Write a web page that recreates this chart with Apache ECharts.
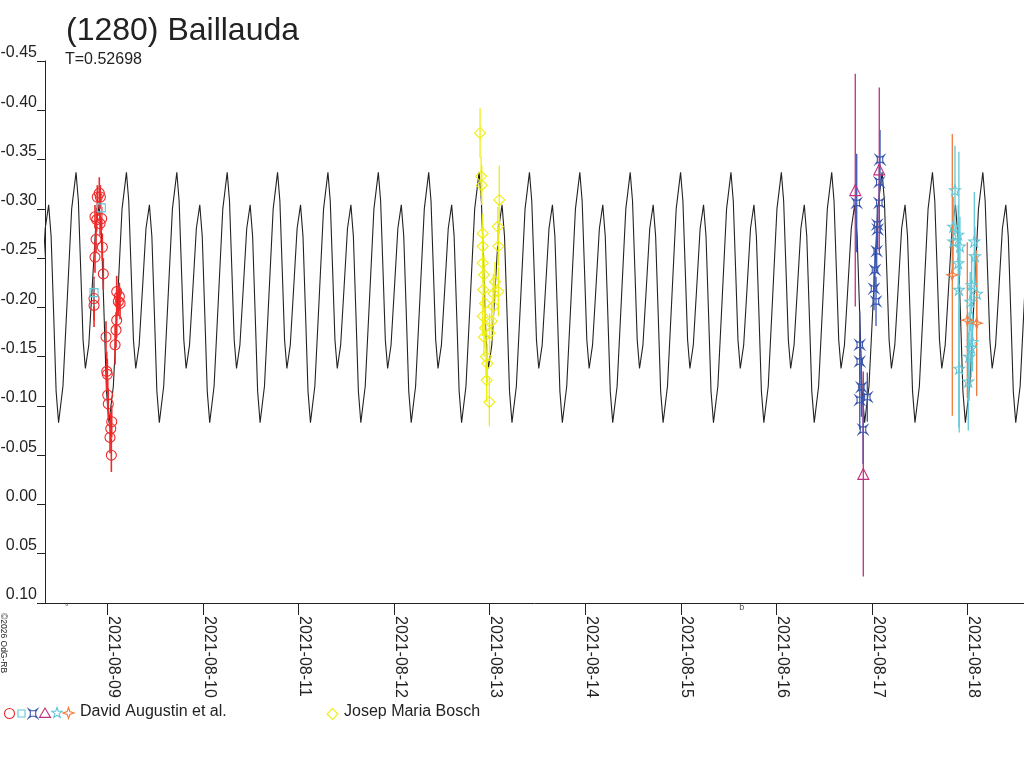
<!DOCTYPE html>
<html>
<head>
<meta charset="utf-8">
<script src="https://cdn.jsdelivr.net/npm/echarts@6/dist/echarts.min.js"></script>
<style>
  html, body { margin: 0; padding: 0; background: #fff; }
  #main { width: 1024px; height: 768px; }
</style>
</head>
<body>
<div id="main"></div>
<script>
// x values are days from 2021-08-09 00:00 UT, y values are magnitudes
var dateTicks = ['2021-08-09', '2021-08-10', '2021-08-11', '2021-08-12', '2021-08-13',
                 '2021-08-14', '2021-08-15', '2021-08-16', '2021-08-17', '2021-08-18'];
var tickDays = [0, 1, 2, 3, 4, 5, 6, 7, 8, 9];

// model lightcurve: period, epoch of the deep minimum, one cycle
var period = 0.52698;
var epoch = -0.51;
var profilePhase = [0, 0.087, 0.174, 0.260, 0.347, 0.393, 0.440, 0.486, 0.532, 0.600, 0.668, 0.735, 0.803, 0.852, 0.902, 0.951];
var profileMag = [-0.083, -0.120, -0.210, -0.300, -0.337, -0.308, -0.238, -0.167, -0.138, -0.162, -0.221, -0.280, -0.304, -0.272, -0.194, -0.115];

// David Augustin et al. - red circles
var redT = [-0.084, -0.105, -0.073, -0.129, -0.111, -0.059, -0.076, -0.118, -0.052, -0.129, -0.042, -0.139, -0.139,
            0.098, 0.126, 0.115, 0.133, 0.098, 0.091, 0.081, -0.014, -0.006, 0.000, 0.004, 0.010, 0.046, 0.036, 0.028, 0.042];
var redMag = [-0.316, -0.312, -0.312, -0.292, -0.289, -0.290, -0.285, -0.269, -0.261, -0.251, -0.234, -0.209, -0.202,
              -0.216, -0.211, -0.206, -0.204, -0.187, -0.177, -0.162, -0.170, -0.135, -0.132, -0.111, -0.102, -0.084, -0.077, -0.068, -0.050];
var redErr = [0.016, 0.012, 0.012, 0.012, 0.012, 0.012, 0.012, 0.014, 0.014, 0.016, 0.016, 0.022, 0.022,
              0.016, 0.014, 0.014, 0.016, 0.018, 0.018, 0.020, 0.016, 0.020, 0.016, 0.016, 0.016, 0.016, 0.016, 0.016, 0.017];
// cyan squares
var sqT = [-0.063, -0.139];
var sqMag = [-0.301, -0.215];
var sqErr = [0.010, 0.014];
// blue crossed boxes
var boxT = [7.839, 8.083, 8.075, 8.075, 8.054, 8.058, 8.048, 8.030, 8.020, 8.041, 7.871, 7.871, 7.888, 7.871, 7.950, 7.905];
var boxMag = [-0.306, -0.350, -0.327, -0.306, -0.284, -0.279, -0.257, -0.238, -0.219, -0.206, -0.162, -0.145, -0.119, -0.106, -0.109, -0.076];
var boxErr = [0.050, 0.030, 0.020, 0.020, 0.020, 0.020, 0.022, 0.022, 0.022, 0.025, 0.034, 0.030, 0.030, 0.030, 0.025, 0.035];
// magenta triangles
var triT = [7.824, 8.075, 7.908];
var triMag = [-0.319, -0.340, -0.031];
var triErr = [0.118, 0.083, 0.104];
// cyan stars
var starT = [8.867, 8.849, 8.901, 8.919, 8.849, 8.901, 8.908, 9.069, 9.076, 9.041, 9.096, 9.026, 9.050, 9.036, 9.015, 8.911, 9.006];
var starMag = [-0.319, -0.282, -0.274, -0.262, -0.267, -0.245, -0.218, -0.267, -0.252, -0.223, -0.214, -0.206, -0.165, -0.159, -0.150, -0.138, -0.125];
var starErr = [0.045, 0.030, 0.030, 0.030, 0.030, 0.030, 0.140, 0.050, 0.030, 0.030, 0.030, 0.030, 0.030, 0.030, 0.045, 0.065, 0.050];
// orange four-point stars
var sparkT = [8.839, 8.996, 9.094];
var sparkMag = [-0.233, -0.187, -0.184];
var sparkErr = [0.143, 0.079, 0.074];
// Josep Maria Bosch - yellow diamonds
var boschT = [3.899, 3.910, 3.917, 4.100, 4.084, 3.927, 4.090, 3.927, 3.927, 3.940, 4.055, 4.090, 4.038, 3.933, 3.951, 4.038,
              3.927, 4.021, 3.951, 3.999, 3.940, 3.961, 3.975, 3.968, 3.996];
var boschMag = [-0.377, -0.333, -0.324, -0.309, -0.282, -0.275, -0.262, -0.262, -0.245, -0.233, -0.226, -0.216, -0.214, -0.218,
                -0.204, -0.201, -0.191, -0.186, -0.179, -0.174, -0.170, -0.150, -0.143, -0.126, -0.104];
var boschErr = [0.025, 0.020, 0.020, 0.035, 0.020, 0.020, 0.020, 0.020, 0.020, 0.020, 0.020, 0.025, 0.020, 0.020,
                0.020, 0.020, 0.020, 0.020, 0.020, 0.020, 0.020, 0.020, 0.020, 0.022, 0.025];

// little marks under the time axis
var markT = [-0.425, 6.636];
var markText = ['\u00b0', 'b'];

var xMin = -0.652, xMax = 9.589;
var FONT = '"Liberation Sans", Arial, sans-serif';
var TXT = '#222';

// symbol outlines, unit coords (-10..10)
var boxPts = [[-10, -10], [-4, -6], [4, -6], [10, -10], [6, -4], [6, 4], [10, 10], [4, 6], [-4, 6], [-10, 10], [-6, 4], [-6, -4]];
var starPts = [[0, -10], [2.35, -3.24], [9.51, -3.09], [3.8, 1.24], [5.88, 8.09], [0, 4], [-5.88, 8.09], [-3.8, 1.24], [-9.51, -3.09], [-2.35, -3.24]];
var sparkPts = [[0, -10], [2.5, -2.5], [10, 0], [2.5, 2.5], [0, 10], [-2.5, 2.5], [-10, 0], [-2.5, -2.5]];
var triPts = [[0, -9], [10, 8], [-10, 8]];
var diaPts = [[0, -10], [10, 0], [0, 10], [-10, 0]];

function toPath(pts) {
    return 'path://' + pts.map(function(p, i) { return (i ? 'L' : 'M') + p[0] + ',' + p[1]; }).join(' ') + ' Z';
}

var groups = [
    { t: redT, mag: redMag, err: redErr, color: '#ee2a2a', symbol: 'circle', size: 10, bar: 1.6 },
    { t: sqT, mag: sqMag, err: sqErr, color: '#5ec8d8', symbol: 'rect', size: 8, bar: 1 },
    { t: boxT, mag: boxMag, err: boxErr, color: '#3a56b0', symbol: toPath(boxPts), size: 9, bar: 1.3 },
    { t: triT, mag: triMag, err: triErr, color: '#c0307c', symbol: toPath(triPts), size: 11, bar: 1.3 },
    { t: starT, mag: starMag, err: starErr, color: '#62c8d8', symbol: toPath(starPts), size: 11, bar: 1.3 },
    { t: sparkT, mag: sparkMag, err: sparkErr, color: '#f07a3a', symbol: toPath(sparkPts), size: 11, bar: 1.3 },
    { t: boschT, mag: boschMag, err: boschErr, color: '#eeee10', symbol: toPath(diaPts), size: 11, bar: 1.3 }
];

function modelLine() {
    var list = [];
    for (var n = -3; n <= 21; n++) {
        for (var i = 0; i < profilePhase.length; i++) {
            var t = epoch + (n + profilePhase[i]) * period;
            if (t > xMin - 0.6 && t < xMax + 0.6) list.push([t, profileMag[i]]);
        }
    }
    return list;
}

function rows(g) {
    var list = [];
    for (var i = 0; i < g.t.length; i++) list.push([g.t[i], g.mag[i], g.err[i]]);
    return list;
}

var series = [{
    type: 'line',
    data: modelLine(),
    showSymbol: false,
    silent: true,
    z: 1,
    lineStyle: { color: '#222', width: 1.1 }
}];

groups.forEach(function(g) {
    series.push({
        type: 'custom',
        data: rows(g),
        z: 3,
        silent: true,
        renderItem: function(params, api) {
            var x = api.value(0), y = api.value(1), e = api.value(2);
            var p1 = api.coord([x, y - e]);
            var p2 = api.coord([x, y + e]);
            return {
                type: 'line',
                shape: { x1: p1[0], y1: p1[1], x2: p2[0], y2: p2[1] },
                style: { stroke: g.color, lineWidth: g.bar }
            };
        }
    });
    series.push({
        type: 'scatter',
        data: rows(g),
        z: 4,
        symbol: g.symbol,
        symbolSize: g.size,
        itemStyle: { color: 'rgba(0,0,0,0)', borderColor: g.color, borderWidth: 1.1, opacity: 1 }
    });
});

series.push({
    type: 'scatter',
    data: markT.map(function(t, i) { return { value: [t, 0.10], name: markText[i] }; }),
    symbolSize: 0,
    silent: true,
    label: {
        show: true, position: 'bottom', distance: 0, formatter: '{b}',
        color: TXT, fontSize: 9, fontFamily: FONT
    }
});

// legend row drawn by hand, one label shared by six symbols
function icon(pts, cx, cy, s, color) {
    var k = s / 20;
    return {
        type: 'polygon',
        shape: { points: pts.map(function(p) { return [cx + p[0] * k, cy + p[1] * k]; }) },
        style: { fill: 'none', stroke: color, lineWidth: 1.1 }
    };
}

var graphics = [
    { type: 'circle', shape: { cx: 9.5, cy: 713.5, r: 5 }, style: { fill: 'none', stroke: '#ee2a2a', lineWidth: 1.1 } },
    { type: 'rect', shape: { x: 18, y: 710, width: 7, height: 7 }, style: { fill: 'none', stroke: '#5ec8d8', lineWidth: 1.1 } },
    icon(boxPts, 33, 713.5, 9, '#3a56b0'),
    icon(triPts, 45, 713, 11, '#c0307c'),
    icon(starPts, 57, 713, 11, '#62c8d8'),
    icon(sparkPts, 68.5, 713, 11, '#f07a3a'),
    { type: 'text', left: 80, top: 704, style: { text: 'David Augustin et al.', fill: TXT, font: '16px ' + FONT } },
    icon(diaPts, 332.5, 714, 11, '#eeee10'),
    { type: 'text', left: 344, top: 704, style: { text: 'Josep Maria Bosch', fill: TXT, font: '16px ' + FONT } },
    {
        type: 'text', x: 3, y: 613, rotation: -Math.PI / 2,
        style: { text: '\u00a92026 OdG-RB', fill: TXT, font: '8.5px ' + FONT, align: 'left', verticalAlign: 'middle' }
    }
];

var chart = echarts.init(document.getElementById('main'), null, { renderer: 'canvas' });
chart.setOption({
    backgroundColor: '#fff',
    animation: false,
    title: [
        { text: '(1280) Baillauda', left: 61, top: 10, textStyle: { fontSize: 32, fontWeight: 'normal', color: TXT, fontFamily: FONT } },
        { text: 'T=0.52698', left: 60, top: 47, textStyle: { fontSize: 16, fontWeight: 'normal', color: TXT, fontFamily: FONT } }
    ],
    grid: { left: 45, right: 0, top: 61, bottom: 165, containLabel: false, outerBoundsMode: 'none' },
    xAxis: {
        type: 'value',
        min: xMin,
        max: xMax,
        splitLine: { show: false },
        axisLine: { onZero: false, lineStyle: { color: TXT, width: 1 } },
        axisTick: { show: true, length: 12, customValues: tickDays, lineStyle: { color: TXT } },
        axisLabel: {
            customValues: tickDays,
            rotate: -90,
            margin: 13,
            verticalAlign: 'bottom',
            lineHeight: 12,
            color: TXT,
            fontSize: 16,
            fontFamily: FONT,
            formatter: function(v) { return dateTicks[Math.round(v)]; }
        }
    },
    yAxis: {
        type: 'value',
        inverse: true,
        min: -0.45,
        max: 0.10,
        interval: 0.05,
        splitLine: { show: false },
        axisLine: { show: true, onZero: false, lineStyle: { color: TXT, width: 1 } },
        axisTick: { show: true, length: 8, lineStyle: { color: TXT } },
        axisLabel: {
            margin: 8,
            color: TXT,
            fontSize: 16,
            fontFamily: FONT,
            verticalAlign: 'bottom',
            formatter: function(v) { return (Math.abs(v) < 1e-9 ? 0 : v).toFixed(2); }
        }
    },
    series: series,
    graphic: graphics
});
</script>
</body>
</html>
